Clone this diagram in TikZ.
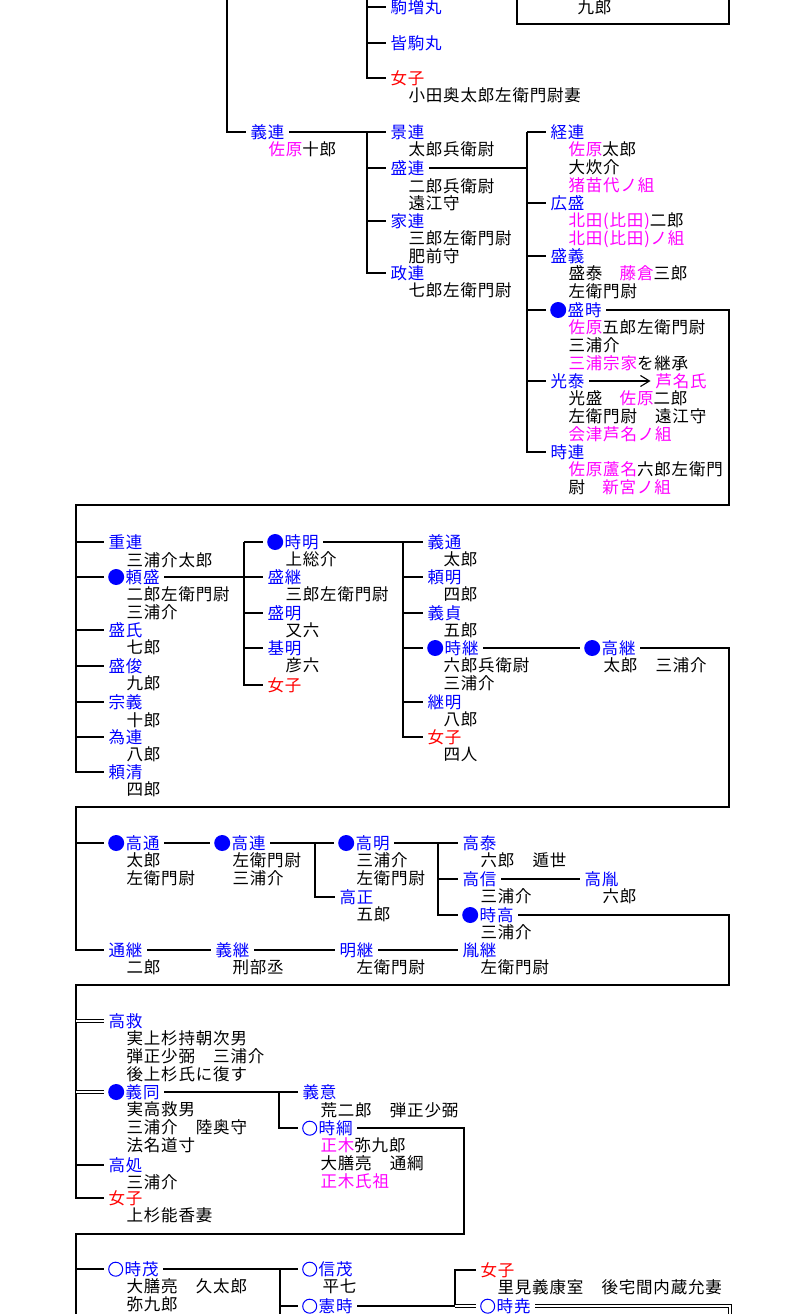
\documentclass[tikz,border=0pt]{standalone}
\usepackage{fontspec}
\setmainfont{Noto Sans CJK JP}[LetterSpace=5]
\usetikzlibrary{arrows.meta}
\definecolor{mgc}{RGB}{255,0,255}
\definecolor{blc}{RGB}{0,0,255}
\definecolor{rdc}{RGB}{255,0,0}
\newcommand\mg[1]{\textcolor{mgc}{#1}}
\newcommand\lns[1]{\vtop{\let\\\cr\halign{##\hfil\cr#1\crcr}}}
\newcommand\fulldot{\tikz[baseline=-6pt]\fill[blc] (8pt,0pt) circle (8pt);\hspace{1.5pt}}
\newcommand\opendot{\tikz[baseline=-6pt]\draw[blc,line width=1pt] (7.5pt,0pt) circle (7pt);\hspace{1.5pt}}

\begin{document}
\begin{tikzpicture}[x=1pt,y=-1pt,line width=1.1pt,
	font=\fontsize{16.5}{17.7}\selectfont,
	nm/.style={anchor=west,inner xsep=4.5pt,inner ysep=1pt,text=blc},
	fem/.style={nm,text=rdc},
	sub/.style={anchor=base west,inner sep=0pt},
	dbl/.style={double,double distance=1.5pt,line width=1pt}]
	\useasboundingbox[fill=white] (0,0) rectangle (794,1314);
	% top: end of the box above
	\draw (517,0) -- (517,24) -- (729,24) -- (729,0);
	\node[anchor=west,inner sep=0pt] (kuro0) at (577,7) {九郎};
	\coordinate (t0) at (227,0);
	\coordinate (t1) at (367,0);
	\node[nm] (komamasu) at (385.5,7) {駒増丸};
	\node[nm] (minakoma) at (385.5,43) {皆駒丸};
	\node[fem] (jo1) at (385.5,78) {女子};
	\node[sub] (jo1s) at ([xshift=22.5pt,yshift=-17.7pt]jo1.base west) {小田奥太郎左衛門尉妻};
	\draw (t1) |- (jo1.west);
	\foreach \c in {komamasu,minakoma}
		\draw (\c.west) -- (\c.west -| t1);
	% yoshitsura
	\node[nm] (yoshitsura) at (245.5,132) {義連};
	\node[sub] (yoshitsuras) at ([xshift=22.5pt,yshift=-17.7pt]yoshitsura.base west) {\mg{佐原}十郎};
	\draw (t0) |- (yoshitsura.west);
	\coordinate (t2) at (367,132);
	\node[nm] (kagetsura) at (385.5,132) {景連};
	\node[sub] (kagetsuras) at ([xshift=22.5pt,yshift=-17.7pt]kagetsura.base west) {太郎兵衛尉};
	\node[nm] (moritsura) at (385.5,168) {盛連};
	\node[sub] (moritsuras) at ([xshift=22.5pt,yshift=-17.7pt]moritsura.base west) {\lns{二郎兵衛尉\\遠江守}};
	\node[nm] (ietsura) at (385.5,221) {家連};
	\node[sub] (ietsuras) at ([xshift=22.5pt,yshift=-17.7pt]ietsura.base west) {\lns{三郎左衛門尉\\肥前守}};
	\node[nm] (masatsura) at (385.5,273) {政連};
	\node[sub] (masatsuras) at ([xshift=22.5pt,yshift=-17.7pt]masatsura.base west) {七郎左衛門尉};
	\draw (yoshitsura.east) -- (kagetsura.west);
	\draw (t2) |- (masatsura.west);
	\foreach \c in {moritsura,ietsura}
		\draw (\c.west) -- (\c.west -| t2);
	% children of moritsura
	\coordinate (t3) at (527,132);
	\node[nm] (tsunetsura) at (545.5,132) {経連};
	\node[sub] (tsunetsuras) at ([xshift=22.5pt,yshift=-17.7pt]tsunetsura.base west) {\lns{\mg{佐原}太郎\\大炊介\\\mg{猪苗代ノ組}}};
	\node[nm] (hiromori) at (545.5,203) {広盛};
	\node[sub] (hiromoris) at ([xshift=22.5pt,yshift=-17.7pt]hiromori.base west) {\lns{\mg{北田(比田)}二郎\\\mg{北田(比田)ノ組}}};
	\node[nm] (moriyoshi) at (545.5,256) {盛義};
	\node[sub] (moriyoshis) at ([xshift=22.5pt,yshift=-17.7pt]moriyoshi.base west) {\lns{盛泰　\mg{藤倉}三郎\\左衛門尉}};
	\node[nm] (moritoki) at (545.5,310) {\fulldot 盛時};
	\node[sub] (moritokis) at ([xshift=22.5pt,yshift=-17.7pt]moritoki.base west) {\lns{\mg{佐原}五郎左衛門尉\\三浦介\\\mg{三浦宗家}を継承}};
	\node[nm] (mitsuyasu) at (545.5,381) {光泰};
	\node[sub] (mitsuyasus) at ([xshift=22.5pt,yshift=-17.7pt]mitsuyasu.base west) {\lns{光盛　\mg{佐原}二郎\\左衛門尉　遠江守\\\mg{会津芦名ノ組}}};
	\node[nm] (tokitsura) at (545.5,452) {時連};
	\node[sub] (tokitsuras) at ([xshift=22.5pt,yshift=-17.7pt]tokitsura.base west) {\lns{\mg{佐原蘆名}六郎左衛門\\尉　\mg{新宮ノ組}}};
	\draw (moritsura.east) -- (moritsura.east -| t3);
	\draw (t3) |- (tokitsura.west);
	\foreach \c in {tsunetsura,hiromori,moriyoshi,moritoki,mitsuyasu}
		\draw (\c.west) -- (\c.west -| t3);
	\node[anchor=west,inner xsep=4.5pt,text=mgc] (ashina) at (650.5,381) {芦名氏};
	\draw[-{Straight Barb[length=9pt,width=11pt]}] (mitsuyasu.east) -- (ashina.west);
	% second box
	\coordinate (c1) at (729,505);
	\coordinate (t4) at (76,505);
	\node[nm] (shigetsura) at (103.5,542) {重連};
	\node[sub] (shigetsuras) at ([xshift=22.5pt,yshift=-17.7pt]shigetsura.base west) {三浦介太郎};
	\node[nm] (yorimori) at (103.5,577) {\fulldot 頼盛};
	\node[sub] (yorimoris) at ([xshift=22.5pt,yshift=-17.7pt]yorimori.base west) {\lns{二郎左衛門尉\\三浦介}};
	\node[nm] (moriuji) at (103.5,630) {盛氏};
	\node[sub] (moriujis) at ([xshift=22.5pt,yshift=-17.7pt]moriuji.base west) {七郎};
	\node[nm] (moritoshi) at (103.5,666) {盛俊};
	\node[sub] (moritoshis) at ([xshift=22.5pt,yshift=-17.7pt]moritoshi.base west) {九郎};
	\node[nm] (muneyoshi) at (103.5,702) {宗義};
	\node[sub] (muneyoshis) at ([xshift=22.5pt,yshift=-17.7pt]muneyoshi.base west) {十郎};
	\node[nm] (tametsura) at (103.5,737) {為連};
	\node[sub] (tametsuras) at ([xshift=22.5pt,yshift=-17.7pt]tametsura.base west) {八郎};
	\node[nm] (yorikiyo) at (103.5,772) {頼清};
	\node[sub] (yorikiyos) at ([xshift=22.5pt,yshift=-17.7pt]yorikiyo.base west) {四郎};
	\draw (moritoki.east) -| (c1) -- (t4) |- (yorikiyo.west);
	\foreach \c in {shigetsura,yorimori,moriuji,moritoshi,muneyoshi,tametsura}
		\draw (\c.west) -- (\c.west -| t4);
	\coordinate (t5) at (244,542);
	\node[nm] (tokiaki) at (262.5,542) {\fulldot 時明};
	\node[sub] (tokiakis) at ([xshift=22.5pt,yshift=-17.7pt]tokiaki.base west) {上総介};
	\node[nm] (moritsugu) at (262.5,577) {盛継};
	\node[sub] (moritsugus) at ([xshift=22.5pt,yshift=-17.7pt]moritsugu.base west) {三郎左衛門尉};
	\node[nm] (moriaki) at (262.5,613) {盛明};
	\node[sub] (moriakis) at ([xshift=22.5pt,yshift=-17.7pt]moriaki.base west) {又六};
	\node[nm] (motoaki) at (262.5,648) {基明};
	\node[sub] (motoakis) at ([xshift=22.5pt,yshift=-17.7pt]motoaki.base west) {彦六};
	\node[fem] (jo2) at (262.5,685) {女子};
	\draw (yorimori.east) -- (moritsugu.west);
	\draw (t5) |- (jo2.west);
	\foreach \c in {tokiaki,moriaki,motoaki}
		\draw (\c.west) -- (\c.west -| t5);
	\coordinate (t6) at (403,542);
	\node[nm] (yoshimichi) at (422.5,542) {義通};
	\node[sub] (yoshimichis) at ([xshift=20.5pt,yshift=-17.7pt]yoshimichi.base west) {太郎};
	\node[nm] (yoriaki) at (422.5,577) {頼明};
	\node[sub] (yoriakis) at ([xshift=20.5pt,yshift=-17.7pt]yoriaki.base west) {四郎};
	\node[nm] (yoshisada) at (422.5,613) {義貞};
	\node[sub] (yoshisadas) at ([xshift=20.5pt,yshift=-17.7pt]yoshisada.base west) {五郎};
	\node[nm] (tokitsugu) at (422.5,648) {\fulldot 時継};
	\node[sub] (tokitsugus) at ([xshift=20.5pt,yshift=-17.7pt]tokitsugu.base west) {\lns{六郎兵衛尉\\三浦介}};
	\node[nm] (tsuguaki) at (422.5,702) {継明};
	\node[sub] (tsuguakis) at ([xshift=20.5pt,yshift=-17.7pt]tsuguaki.base west) {八郎};
	\node[fem] (jo3) at (422.5,737) {女子};
	\node[sub] (jo3s) at ([xshift=20.5pt,yshift=-17.7pt]jo3.base west) {四人};
	\draw (tokiaki.east) -- (yoshimichi.west);
	\draw (t6) |- (jo3.west);
	\foreach \c in {yoriaki,yoshisada,tokitsugu,tsuguaki}
		\draw (\c.west) -- (\c.west -| t6);
	\node[nm] (takatsugu) at (579.5,648) {\fulldot 高継};
	\node[sub] (takatsugus) at ([xshift=23.5pt,yshift=-17.7pt]takatsugu.base west) {太郎　三浦介};
	\draw (tokitsugu.east) -- (takatsugu.west);
	% third box
	\coordinate (c2) at (729,807);
	\coordinate (t7) at (76,807);
	\node[nm] (takamichi) at (103.5,843) {\fulldot 高通};
	\node[sub] (takamichis) at ([xshift=22.5pt,yshift=-17.7pt]takamichi.base west) {\lns{太郎\\左衛門尉}};
	\node[nm] (takatsura) at (209.5,843) {\fulldot 高連};
	\node[sub] (takatsuras) at ([xshift=22.5pt,yshift=-17.7pt]takatsura.base west) {\lns{左衛門尉\\三浦介}};
	\coordinate (t8) at (315,843);
	\node[nm] (takaaki) at (333.5,843) {\fulldot 高明};
	\node[sub] (takaakis) at ([xshift=22.5pt,yshift=-17.7pt]takaaki.base west) {\lns{三浦介\\左衛門尉}};
	\node[nm] (takamasa) at (334.5,897) {高正};
	\node[sub] (takamasas) at ([xshift=21.5pt,yshift=-17.7pt]takamasa.base west) {五郎};
	\coordinate (t9) at (438,843);
	\node[nm] (takayasu) at (457.5,843) {高泰};
	\node[sub] (takayasus) at ([xshift=22.5pt,yshift=-17.7pt]takayasu.base west) {六郎　遁世};
	\node[nm] (takanobu) at (457.5,879) {高信};
	\node[sub] (takanobus) at ([xshift=22.5pt,yshift=-17.7pt]takanobu.base west) {三浦介};
	\node[nm] (tokitaka) at (457.5,915) {\fulldot 時高};
	\node[sub] (tokitakas) at ([xshift=22.5pt,yshift=-17.7pt]tokitaka.base west) {三浦介};
	\node[nm] (takatane) at (579.5,879) {高胤};
	\node[sub] (takatanes) at ([xshift=22.5pt,yshift=-17.7pt]takatane.base west) {六郎};
	\node[nm] (michitsugu) at (103.5,950) {通継};
	\node[sub] (michitsugus) at ([xshift=22.5pt,yshift=-17.7pt]michitsugu.base west) {二郎};
	\node[nm] (yoshitsugu) at (210.5,950) {義継};
	\node[sub] (yoshitsugus) at ([xshift=21.5pt,yshift=-17.7pt]yoshitsugu.base west) {刑部丞};
	\node[nm] (akitsugu) at (334.5,950) {明継};
	\node[sub] (akitsugus) at ([xshift=21.5pt,yshift=-17.7pt]akitsugu.base west) {左衛門尉};
	\node[nm] (tanetsugu) at (457.5,950) {胤継};
	\node[sub] (tanetsugus) at ([xshift=22.5pt,yshift=-17.7pt]tanetsugu.base west) {左衛門尉};
	\draw (takatsugu.east) -| (c2) -- (t7) |- (michitsugu.west);
	\draw (takamichi.west) -- (takamichi.west -| t7);
	\draw (takamichi.east) -- (takatsura.west);
	\draw (takatsura.east) -- (takaaki.west);
	\draw (t8) |- (takamasa.west);
	\draw (takaaki.east) -- (takayasu.west);
	\draw (t9) |- (tokitaka.west);
	\draw (takanobu.west) -- (takanobu.west -| t9);
	\draw (takanobu.east) -- (takatane.west);
	\draw (michitsugu.east) -- (yoshitsugu.west);
	\draw (yoshitsugu.east) -- (akitsugu.west);
	\draw (akitsugu.east) -- (tanetsugu.west);
	% fourth box
	\coordinate (c3) at (729,985);
	\coordinate (t10) at (76,985);
	\node[nm] (takahira) at (103.5,1021) {高救};
	\node[sub] (takahiras) at ([xshift=22.5pt,yshift=-17.7pt]takahira.base west) {\lns{実上杉持朝次男\\弾正少弼　三浦介\\後上杉氏に復す}};
	\node[nm] (yoshiatsu) at (103.5,1092) {\fulldot 義同};
	\node[sub] (yoshiatsus) at ([xshift=22.5pt,yshift=-17.7pt]yoshiatsu.base west) {\lns{実高救男\\三浦介　陸奥守\\法名道寸}};
	\node[nm] (takaoki) at (103.5,1165) {高処};
	\node[sub] (takaokis) at ([xshift=22.5pt,yshift=-17.7pt]takaoki.base west) {三浦介};
	\node[fem] (jo4) at (103.5,1198) {女子};
	\node[sub] (jo4s) at ([xshift=22.5pt,yshift=-17.7pt]jo4.base west) {上杉能香妻};
	\draw (tokitaka.east) -| (c3) -- (t10) |- (jo4.west);
	\draw[dbl] (takahira.west) -- (takahira.west -| t10);
	\draw[dbl] (yoshiatsu.west) -- (yoshiatsu.west -| t10);
	\draw (takaoki.west) -- (takaoki.west -| t10);
	\coordinate (t11) at (279,1092);
	\node[nm] (yoshioki) at (297.5,1092) {義意};
	\node[sub] (yoshiokis) at ([xshift=22.5pt,yshift=-17.7pt]yoshioki.base west) {荒二郎　弾正少弼};
	\node[nm] (tokitsuna) at (297.5,1128) {\opendot 時綱};
	\node[sub] (tokitsunas) at ([xshift=22.5pt,yshift=-17.7pt]tokitsuna.base west) {\lns{\mg{正木}弥九郎\\大膳亮　通綱\\\mg{正木氏祖}}};
	\draw (yoshiatsu.east) -- (yoshioki.west);
	\draw (t11) |- (tokitsuna.west);
	% fifth box
	\coordinate (c4) at (464,1234);
	\coordinate (t12) at (76,1234);
	\coordinate (e1) at (76,1320);
	\node[nm] (tokishige) at (103.5,1269) {\opendot 時茂};
	\node[sub] (tokishiges) at ([xshift=22.5pt,yshift=-17.7pt]tokishige.base west) {\lns{大膳亮　久太郎\\弥九郎}};
	\draw (tokitsuna.east) -| (c4) -- (t12) -- (e1);
	\draw (tokishige.west) -- (tokishige.west -| t12);
	\coordinate (t13) at (280,1269);
	\coordinate (e2) at (280,1320);
	\node[nm] (nobushige) at (297.5,1269) {\opendot 信茂};
	\node[sub] (nobushiges) at ([xshift=24.5pt,yshift=-17.7pt]nobushige.base west) {平七};
	\node[nm] (noritoki) at (297.5,1306) {\opendot 憲時};
	\draw (tokishige.east) -- (nobushige.west);
	\draw (t13) -- (e2);
	\draw (noritoki.west) -- (noritoki.west -| t13);
	\coordinate (t14) at (455,1270);
	\node[fem] (jo5) at (475.5,1270) {女子};
	\node[sub] (jo5s) at ([xshift=21.5pt,yshift=-17.7pt]jo5.base west) {里見義康室　後宅間内蔵允妻};
	\node[nm] (tokitaka2) at (475.5,1306) {\opendot 時尭};
	\draw (noritoki.east) -- (noritoki.east -| t14);
	\draw (jo5.west) -| (noritoki.east -| t14);
	\draw[dbl] (tokitaka2.west) -- (tokitaka2.west -| t14);
	\coordinate (c5) at (730,1306);
	\coordinate (e3) at (730,1320);
	\draw[dbl] (tokitaka2.east) -- (c5) -- (e3);
\end{tikzpicture}
\end{document}
